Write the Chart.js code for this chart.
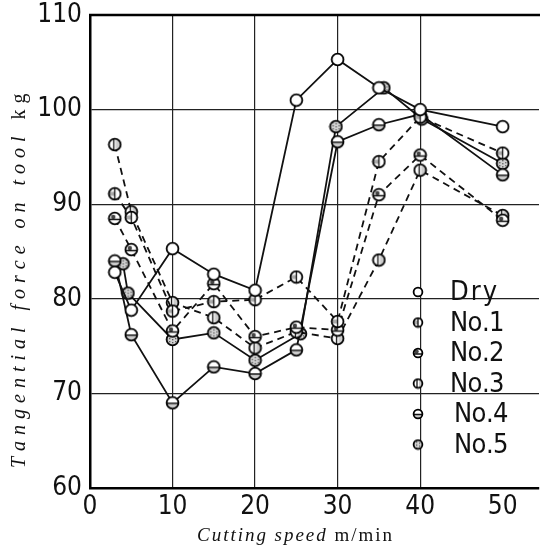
<!DOCTYPE html>
<html>
<head>
<meta charset="utf-8">
<script src="https://cdn.jsdelivr.net/npm/chart.js@4.4.1/dist/chart.umd.min.js"></script>
<style>
  html, body { margin: 0; padding: 0; background: #fff; }
  canvas { display: block; }
</style>
</head>
<body>
<canvas id="forceChart" width="540" height="547"></canvas>
<script>
// cutting speed (m/min) and tangential force (kg)
const speeds = [3, 5, 10, 15, 20, 25, 30, 35, 40, 50];
const speedsNo5 = [4, 4.6, 10, 15, 20, 25.5, 29.8, 35.6, 40.2, 50];
const dry = [82.8, 78.8, 85.3, 82.6, 80.9, 101.0, 105.3, 102.3, 100.0, 98.2];
const no1 = [91.1, 88.6, 78.7, 79.7, 79.9, 82.3, 77.6, 94.5, 99.2, 95.4];
const no2 = [88.5, 85.2, 76.6, 81.6, 76.0, 77.0, 76.7, 91.0, 95.2, 88.3];
const no3 = [96.3, 89.2, 79.6, 78.0, 74.8, 76.5, 75.8, 84.1, 93.6, 88.8];
const no4 = [84.0, 76.2, 69.0, 72.8, 72.1, 74.6, 96.6, 98.4, 99.5, 93.1];
const no5 = [83.7, 80.6, 75.7, 76.4, 73.5, 76.3, 98.2, 102.3, 99.0, 94.3];
const xTicks = [0, 10, 20, 30, 40, 50];
const yTicks = [60, 70, 80, 90, 100, 110];

const tickFont = '"Liberation Sans Narrow", "DejaVu Sans Condensed", sans-serif';
const serif = '"Liberation Serif", "DejaVu Serif", serif';

// little circle markers, each with its own fill pattern
function makeMarker(kind, size) {
    const c = document.createElement("canvas");
    c.width = c.height = size;
    const g = c.getContext("2d");
    const m = size / 2, r = size / 2 - 1.6;
    g.beginPath();
    g.arc(m, m, r, 0, Math.PI * 2);
    g.fillStyle = "#fff";
    g.fill();
    g.save();
    g.clip();
    g.fillStyle = "#aaa";
    g.strokeStyle = "#111";
    g.lineWidth = 1.3;
    if (kind === "vhalf") {
        g.fillRect(0, m - 2, m, 4);
        g.beginPath(); g.moveTo(m, 0); g.lineTo(m, size); g.stroke();
    } else if (kind === "blob") {
        g.fillStyle = "#444";
        g.beginPath(); g.arc(m - 1.5, m - 1.5, 2.2, 0, Math.PI * 2); g.fill();
        g.beginPath(); g.moveTo(0, m + 1); g.lineTo(size, m + 1); g.stroke();
    } else if (kind === "vline") {
        g.fillStyle = "#ccc";
        g.fillRect(m + 1, 0, size, size);
        g.beginPath(); g.moveTo(m - 1, 0); g.lineTo(m - 1, size); g.stroke();
    } else if (kind === "hline") {
        g.fillStyle = "#ccc";
        g.fillRect(0, m + 1, size, size);
        g.beginPath(); g.moveTo(0, m + 0.5); g.lineTo(size, m + 0.5); g.stroke();
    } else if (kind === "speckle") {
        g.fillStyle = "#d4d4d4";
        g.fillRect(0, 0, size, size);
        g.fillStyle = "#555";
        for (let i = 1; i < size; i += 3) {
            for (let j = (i % 2); j < size; j += 3) g.fillRect(i, j, 1.3, 1.3);
        }
    }
    g.restore();
    g.beginPath();
    g.arc(m, m, r, 0, Math.PI * 2);
    g.lineWidth = 1.8;
    g.strokeStyle = "#000";
    g.stroke();
    return c;
}

const series = [
    { label: "Dry", xs: speeds, ys: dry, dashed: false, kind: "open" },
    { label: "No.1", xs: speeds, ys: no1, dashed: true, kind: "vhalf" },
    { label: "No.2", xs: speeds, ys: no2, dashed: true, kind: "blob" },
    { label: "No.3", xs: speeds, ys: no3, dashed: true, kind: "vline" },
    { label: "No.4", xs: speeds, ys: no4, dashed: false, kind: "hline" },
    { label: "No.5", xs: speedsNo5, ys: no5, dashed: false, kind: "speckle" },
];

const datasets = series.map(s => ({
    label: s.label,
    data: s.xs.map((x, i) => ({ x: x, y: s.ys[i] })),
    borderColor: "#111",
    borderWidth: 1.8,
    borderDash: s.dashed ? [7, 5] : [],
    pointStyle: makeMarker(s.kind, 15),
    legendMarker: makeMarker(s.kind, 12),
    pointRadius: 7,
    tension: 0,
    fill: false,
}));

// draw text letter by letter so it spreads out over a given length
function spacedText(ctx, parts, x, y, target) {
    let natural = 0, count = 0;
    parts.forEach(p => {
        ctx.font = p.font;
        natural += ctx.measureText(p.text).width;
        count += p.text.length;
    });
    const gap = (target - natural) / (count - 1);
    let cx = x;
    parts.forEach(p => {
        ctx.font = p.font;
        for (const ch of p.text) {
            ctx.fillText(ch, cx, y);
            cx += ctx.measureText(ch).width + gap;
        }
    });
}

const decorations = {
    id: "decorations",
    afterDraw(chart) {
        const ctx = chart.ctx;
        const a = chart.chartArea;
        ctx.save();
        // top frame line
        ctx.strokeStyle = "#000";
        ctx.lineWidth = 2.5;
        ctx.beginPath();
        ctx.moveTo(a.left - 1, a.top);
        ctx.lineTo(540, a.top);
        ctx.stroke();

        ctx.fillStyle = "#111";
        ctx.textBaseline = "middle";
        ctx.textAlign = "left";

        // x axis title
        spacedText(ctx, [
            { text: "Cutting speed", font: "italic 19px " + serif },
            { text: " m/min", font: "19px " + serif },
        ], 197, 536, 195);

        // y axis title
        ctx.save();
        ctx.translate(20, 468);
        ctx.rotate(-Math.PI / 2);
        spacedText(ctx, [
            { text: "Tangential force on tool", font: "italic 20px " + serif },
            { text: " kg", font: "20px " + serif },
        ], 0, 0, 372);
        ctx.restore();

        // legend inside the plot
        chart.data.datasets.forEach((ds, i) => {
            const y = 292 + i * 30.5;
            const mk = ds.legendMarker;
            ctx.drawImage(mk, 418 - mk.width / 2, y - mk.height / 2);
            ctx.fillStyle = "#111";
            const shift = i >= 4 ? 4 : 0;
            spacedText(ctx, [{ text: ds.label, font: "27px " + tickFont }], 450 + shift, y + 1,
                ds.label === "Dry" ? 47 : 54);
        });
        ctx.restore();
    },
};

new Chart(document.getElementById("forceChart").getContext("2d"), {
    type: "line",
    data: { datasets: datasets },
    options: {
        responsive: false,
        animation: false,
        devicePixelRatio: 1,
        layout: { autoPadding: false, padding: { top: 15, right: 1, left: 0, bottom: 0 } },
        plugins: {
            legend: { display: false },
            tooltip: { enabled: false },
        },
        scales: {
            x: {
                type: "linear",
                min: 0,
                max: 54.4,
                afterBuildTicks: scale => {
                    scale.ticks = xTicks.map(v => ({ value: v }));
                },
                afterFit: scale => {
                    scale.height = 59;
                    scale.paddingLeft = 0;
                    scale.paddingRight = 0;
                },
                ticks: {
                    color: "#111",
                    padding: 6,
                    font: { family: tickFont, size: 26, lineHeight: 1 },
                },
                grid: {
                    drawTicks: false,
                    color: c => (c.tick && c.tick.value >= 10 && c.tick.value <= 40) ? "#222" : "rgba(0,0,0,0)",
                    lineWidth: 1.2,
                },
                border: { display: true, color: "#000", width: 2.5 },
            },
            y: {
                type: "linear",
                min: 60,
                max: 110,
                afterBuildTicks: scale => {
                    scale.ticks = yTicks.map(v => ({ value: v }));
                },
                afterFit: scale => {
                    scale.width = 90;
                    scale.paddingTop = 0;
                    scale.paddingBottom = 0;
                },
                ticks: {
                    color: "#111",
                    padding: 8,
                    font: { family: tickFont, size: 26, lineHeight: 1 },
                },
                grid: {
                    drawTicks: false,
                    color: c => (c.tick && c.tick.value > 60 && c.tick.value < 110) ? "#222" : "rgba(0,0,0,0)",
                    lineWidth: 1.2,
                },
                border: { display: true, color: "#000", width: 2.5 },
            },
        },
    },
    plugins: [decorations],
});
</script>
</body>
</html>
